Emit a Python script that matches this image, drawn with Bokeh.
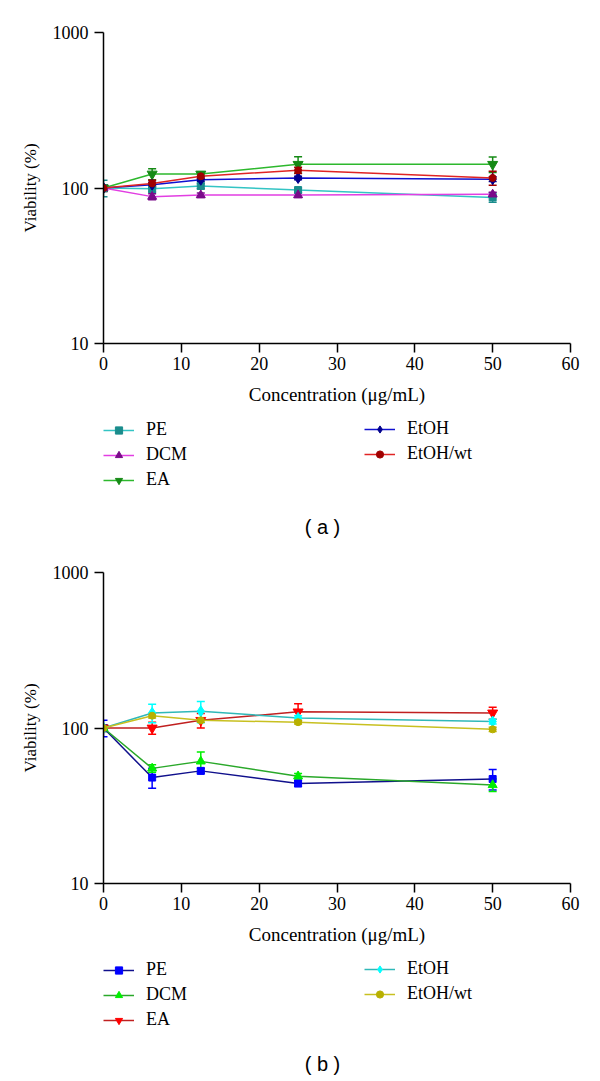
from bokeh.plotting import figure
from bokeh.layouts import column
from bokeh.models import (ColumnDataSource, Whisker, TeeHead, Legend, Label,
                          FixedTicker, PrintfTickFormatter)
from bokeh.embed import file_html
from bokeh.resources import INLINE

conc = [0, 6.25, 12.5, 25, 50]
series_names = ["PE", "DCM", "EA", "EtOH", "EtOH/wt"]

# Panel (a)
a_PE = [100, 99, 103, 97, 87]
a_PE_err = [12, 5, 4, 3, 6]
a_DCM = [100, 88, 90, 90, 91]
a_DCM_err = [5, 4, 3, 3, 3]
a_EA = [100, 123, 123, 142, 142]
a_EA_err = [5, 10, 4, 17, 16]
a_EtOH = [100, 105, 113, 116, 114]
a_EtOH_err = [4, 4, 3, 3, 4]
a_EtOHwt = [100, 107, 119, 130, 116]
a_EtOHwt_err = [4, 5, 4, 6, 12]

# Panel (b)
b_PE = [100, 48, 53, 44, 47]
b_PE_err = [12, 7, 2, 2, 7]
b_DCM = [100, 55, 61, 49, 43]
b_DCM_err = [5, 3, 9, 2, 4]
b_EA = [100, 100, 112, 127, 125]
b_EA_err = [5, 9, 12, 16, 11]
b_EtOH = [100, 125, 128, 116, 110]
b_EtOH_err = [5, 17, 20, 4, 4]
b_EtOHwt = [100, 120, 112, 109, 98]
b_EtOHwt_err = [4, 4, 3, 3, 3]

x_ticks = [0, 10, 20, 30, 40, 50, 60]
y_ticks = [10, 100, 1000]

SERIF = "Liberation Serif"

styles_a = [
    # (line color, marker color, marker, size)
    ("#33c4c4", "#1a8c8c", "square", 7),
    ("#e23ee2", "#7a0a8a", "triangle", 9),
    ("#2db82d", "#158a15", "inverted_triangle", 10),
    ("#1010d0", "#00008c", "diamond", 11),
    ("#e02424", "#a00000", "circle", 7),
]
styles_b = [
    ("#10108c", "#0000ff", "square", 7),
    ("#2aa82a", "#00ee00", "triangle", 9),
    ("#c02020", "#ff0000", "inverted_triangle", 10),
    ("#30b8b8", "#00ffff", "diamond", 11),
    ("#c8c020", "#b8b000", "circle", 7),
]

FIG_W = 592


def make_sources(vals, errs):
    out = []
    for v, e in zip(vals, errs):
        out.append(ColumnDataSource(dict(
            x=conc, y=v,
            upper=[a + b for a, b in zip(v, e)],
            lower=[a - b for a, b in zip(v, e)])))
    return out


def make_panel(sources, styles, top_border):
    p = figure(frame_width=467, frame_height=311,
               y_axis_type="log", x_range=(0, 60), y_range=(10, 1000),
               min_border_left=103, min_border_right=22,
               min_border_top=top_border, min_border_bottom=67,
               output_backend="svg", toolbar_location=None)
    p.outline_line_color = None
    p.xgrid.visible = False
    p.ygrid.visible = False

    for src, (lc, mc, mk, sz) in zip(sources, styles):
        w = Whisker(base="x", upper="upper", lower="lower", source=src,
                    dimension="height", line_color=mc, line_width=1.5,
                    upper_head=TeeHead(size=8, line_color=mc, line_width=1.5),
                    lower_head=TeeHead(size=8, line_color=mc, line_width=1.5))
        p.add_layout(w)
        p.line("x", "y", source=src, line_color=lc, line_width=1.5)
        p.scatter("x", "y", source=src, marker=mk, size=sz,
                  fill_color=mc, line_color=mc)

    for ax in (p.xaxis[0], p.yaxis[0]):
        ax.axis_line_color = "black"
        ax.axis_line_width = 1.5
        ax.major_tick_line_color = "black"
        ax.major_tick_line_width = 1.5
        ax.major_tick_out = 9
        ax.major_tick_in = 0
        ax.minor_tick_line_color = None
        ax.major_label_text_font = SERIF
        ax.major_label_text_font_size = "18px"
        ax.major_label_text_color = "black"
        ax.axis_label_text_font = SERIF
        ax.axis_label_text_font_style = "normal"
        ax.axis_label_text_color = "black"

    p.xaxis.ticker = FixedTicker(ticks=x_ticks)
    p.yaxis.ticker = FixedTicker(ticks=y_ticks, minor_ticks=[])
    p.yaxis.formatter = PrintfTickFormatter(format="%d")
    p.xaxis.axis_label = "Concentration (μg/mL)"
    p.yaxis.axis_label = "Viability (%)"
    p.xaxis.axis_label_text_font_size = "19px"
    p.yaxis.axis_label_text_font_size = "17px"
    p.xaxis.major_label_standoff = 4
    p.xaxis.axis_label_standoff = 11
    p.yaxis.major_label_standoff = 6
    p.yaxis.axis_label_standoff = 10
    return p


def make_legend_fig(sources, styles, tag, height, col1_vy, col2_vy, label_y):
    # legend-only strip; its frame is aligned with the panel frame above
    lf = figure(width=FIG_W, height=height, x_range=(0, 1), y_range=(-2, -1),
                min_border=0, output_backend="svg", toolbar_location=None)
    lf.axis.visible = False
    lf.grid.visible = False
    lf.outline_line_color = None
    items = []
    for name, src, (lc, mc, mk, sz) in zip(series_names, sources, styles):
        r1 = lf.line("x", "y", source=src, line_color=lc, line_width=1.5)
        r2 = lf.scatter("x", "y", source=src, marker=mk, size=sz - 1,
                        fill_color=mc, line_color=mc)
        items.append((name, [r1, r2]))

    def leg(its, vx, vy):
        lg = Legend(items=its, location=(vx, vy),
                    orientation="vertical", padding=0, margin=0, spacing=4,
                    glyph_width=31, glyph_height=18, label_height=18,
                    label_standoff=12, label_text_font=SERIF,
                    label_text_font_size="18px", label_text_color="black",
                    background_fill_alpha=0, border_line_color=None)
        lf.add_layout(lg, "center")

    leg(items[:3], 0, col1_vy)
    leg(items[3:], 261, col2_vy)

    lab = Label(x=219, y=height - label_y, x_units="screen", y_units="screen",
                text=f"( {tag} )", text_font="Liberation Sans",
                text_font_size="20px", text_align="center",
                text_baseline="middle", text_color="black")
    lf.add_layout(lab)
    return lf


src_a = make_sources([a_PE, a_DCM, a_EA, a_EtOH, a_EtOHwt],
                     [a_PE_err, a_DCM_err, a_EA_err, a_EtOH_err, a_EtOHwt_err])
src_b = make_sources([b_PE, b_DCM, b_EA, b_EtOH, b_EtOHwt],
                     [b_PE_err, b_DCM_err, b_EA_err, b_EtOH_err, b_EtOHwt_err])

pa = make_panel(src_a, styles_a, 32)
la = make_legend_fig(src_a, styles_a, "a", 138, 58, 84, 116)
pb = make_panel(src_b, styles_b, 24)
lb = make_legend_fig(src_b, styles_b, "b", 131, 51, 77, 113)

layout = column(pa, la, pb, lb, spacing=0)
open("out.html", "w").write(file_html(layout, INLINE))
